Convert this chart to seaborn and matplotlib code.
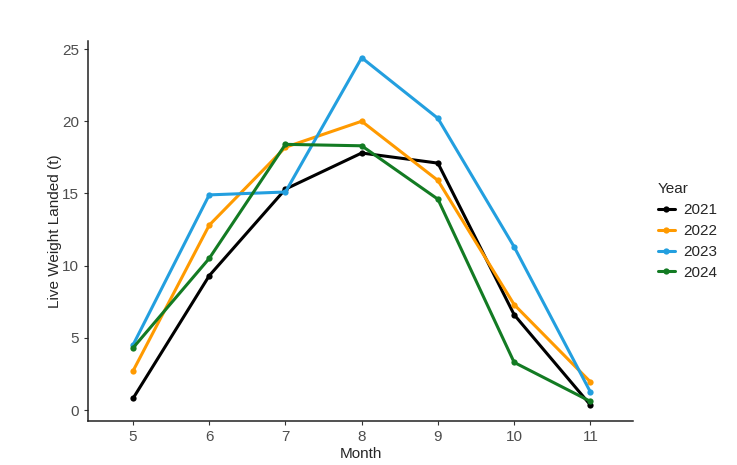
import pandas as pd
import matplotlib.pyplot as plt
import seaborn as sns

months = [5, 6, 7, 8, 9, 10, 11]
years = ["2021", "2022", "2023", "2024"]
w2021 = [0.8, 9.3, 15.3, 17.8, 17.1, 6.6, 0.35]
w2022 = [2.7, 12.8, 18.2, 20.0, 15.9, 7.3, 1.95]
w2023 = [4.5, 14.9, 15.1, 24.4, 20.2, 11.3, 1.25]
w2024 = [4.3, 10.5, 18.4, 18.3, 14.6, 3.3, 0.6]
colors = ["#000000", "#FF9A00", "#239FDF", "#137B23"]

rows = []
for yr, vals in zip(years, [w2021, w2022, w2023, w2024]):
    for m, v in zip(months, vals):
        rows.append({"Month": m, "Live Weight Landed (t)": v, "Year": yr})
df = pd.DataFrame(rows)

sns.set_style("ticks")
plt.rcParams["font.family"] = ["Liberation Sans", "DejaVu Sans"]

fig = plt.figure(figsize=(7.37, 4.65), dpi=100)
ax = fig.add_axes([0.1194, 0.0946, 0.7396, 0.817])
sns.lineplot(data=df, x="Month", y="Live Weight Landed (t)", hue="Year",
             palette=colors, marker="o", markersize=4.5, markeredgewidth=0,
             linewidth=2.2, ax=ax)

ax.set_xlim(4.41, 11.56)
ax.set_ylim(-0.76, 25.55)
ax.set_xticks(months)
ax.set_yticks([0, 5, 10, 15, 20, 25])
ax.tick_params(labelsize=11, labelcolor="#4D4D4D", length=3, color="#333333")
ax.set_xlabel("Month", fontsize=11)
ax.set_ylabel("Live Weight Landed (t)", fontsize=11)
ax.xaxis.labelpad = 2
ax.yaxis.labelpad = 0
for s in ["top", "right"]:
    ax.spines[s].set_visible(False)
for s in ["left", "bottom"]:
    ax.spines[s].set_color("#222222")
    ax.spines[s].set_linewidth(1.1)

leg = ax.legend(title="Year", loc="center left", bbox_to_anchor=(1.02, 0.5),
                frameon=False, fontsize=11, title_fontsize=11,
                handlelength=1.1, handletextpad=0.55, labelspacing=0.45,
                alignment="left")

fig.savefig("out.png", dpi=100)
